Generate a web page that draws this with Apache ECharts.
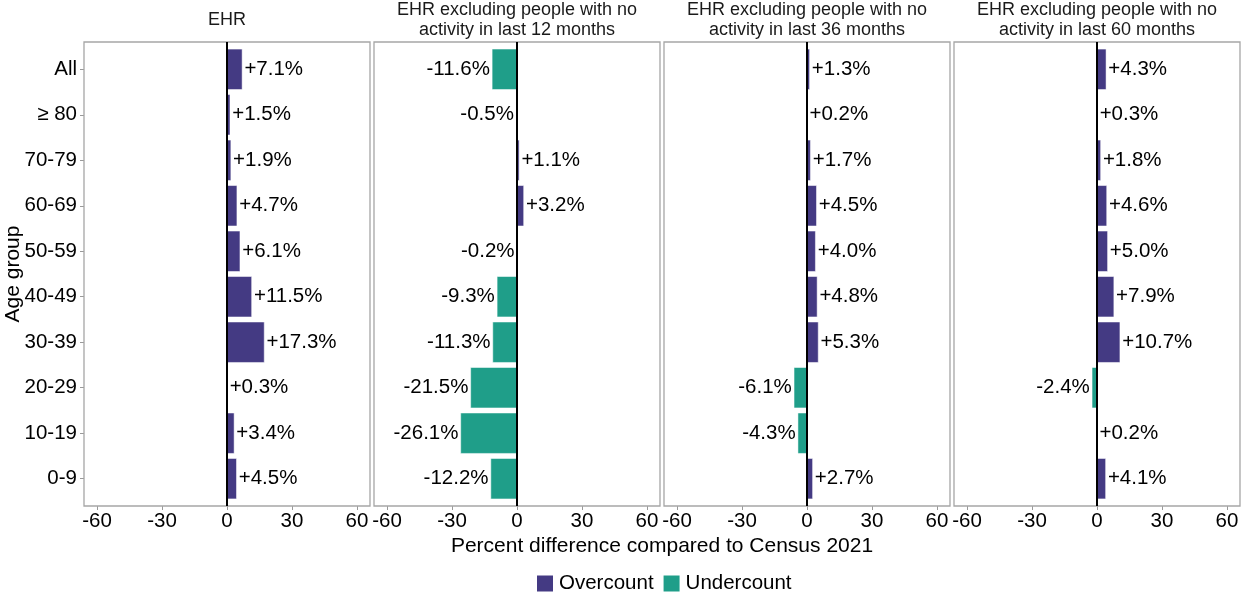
<!DOCTYPE html>
<html lang="en">
<head>
    <meta charset="UTF-8">
    <title>EHR vs Census 2021</title>
    <script src="https://cdn.jsdelivr.net/npm/echarts@6/dist/echarts.min.js"></script>
    <style>
        html, body { margin: 0; padding: 0; background: #fff; }
        #main { width: 1242px; height: 592px; }
    </style>
</head>
<body>
<div id="main"></div>
<script>
    // age groups, top to bottom
    const ageGroups = ['All', '≥ 80', '70-79', '60-69', '50-59', '40-49', '30-39', '20-29', '10-19', '0-9'];

    const panelTitles = [
        'EHR',
        'EHR excluding people with no\nactivity in last 12 months',
        'EHR excluding people with no\nactivity in last 36 months',
        'EHR excluding people with no\nactivity in last 60 months'
    ];

    const ehrAll = [7.1, 1.5, 1.9, 4.7, 6.1, 11.5, 17.3, 0.3, 3.4, 4.5];
    const ehr12m = [-11.6, -0.5, 1.1, 3.2, -0.2, -9.3, -11.3, -21.5, -26.1, -12.2];
    const ehr36m = [1.3, 0.2, 1.7, 4.5, 4.0, 4.8, 5.3, -6.1, -4.3, 2.7];
    const ehr60m = [4.3, 0.3, 1.8, 4.6, 5.0, 7.9, 10.7, -2.4, 0.2, 4.1];
    const panelValues = [ehrAll, ehr12m, ehr36m, ehr60m];

    const xTicks = [-60, -30, 0, 30, 60];

    const OVER = '#443a83';
    const UNDER = '#1f9e89';
    const FONT = 'Liberation Sans, Arial, sans-serif';
    const FS = 20.5;

    const panelLeft = [84, 374, 664, 954];
    const panelWidth = 286;
    // frame 42..506 = 10.2 bands (ggplot discrete expansion 0.6)
    const frameTop = 42, frameBottom = 506;
    const band = (frameBottom - frameTop) / 10.2;
    const gridTop = frameTop + 0.1 * band;
    const gridBottom = 592 - (frameBottom - 0.1 * band);

    let chart = echarts.init(document.getElementById('main'));

    function fmt(v) {
        return (v > 0 ? '+' : '') + v.toFixed(1) + '%';
    }

    let grids = [], xAxes = [], yAxes = [], series = [], titles = [];
    panelValues.forEach(function (vals, i) {
        grids.push({
            left: panelLeft[i],
            width: panelWidth,
            top: gridTop,
            bottom: gridBottom
        });
        xAxes.push({
            type: 'value',
            gridIndex: i,
            min: -66,
            max: 66,
            offset: 0.1 * band,
            splitLine: { show: false },
            axisLine: { show: false, onZero: false },
            axisTick: {
                show: true, length: 4, customValues: xTicks,
                lineStyle: { color: '#999', width: 1 }
            },
            axisLabel: {
                customValues: xTicks, color: '#000', fontSize: FS,
                fontFamily: FONT, margin: 5
            }
        });
        yAxes.push({
            type: 'category',
            gridIndex: i,
            data: ageGroups,
            inverse: true,
            position: 'left',
            axisLine: { show: false, onZero: false },
            axisTick: {
                show: i === 0, length: 4, alignWithLabel: true,
                lineStyle: { color: '#999', width: 1 }
            },
            axisLabel: {
                show: i === 0, color: '#000', fontSize: FS,
                fontFamily: FONT, margin: 7
            },
            splitLine: { show: false }
        });
        series.push({
            name: 'Overcount',
            type: 'bar',
            xAxisIndex: i,
            yAxisIndex: i,
            barWidth: '90%',
            barGap: '-100%',
            itemStyle: { color: OVER, borderColor: '#fff', borderWidth: 0.5 },
            label: {
                show: true, position: 'right', distance: 2, color: '#000',
                fontSize: FS, fontFamily: FONT,
                formatter: function (p) { return fmt(p.value); }
            },
            data: vals.map(function (v) { return v >= 0 ? v : null; })
        });
        series.push({
            name: 'Undercount',
            type: 'bar',
            xAxisIndex: i,
            yAxisIndex: i,
            barWidth: '90%',
            barGap: '-100%',
            itemStyle: { color: UNDER, borderColor: '#fff', borderWidth: 0.5 },
            label: {
                show: true, position: 'left', distance: 2, color: '#000',
                fontSize: FS, fontFamily: FONT,
                formatter: function (p) { return fmt(p.value); }
            },
            data: vals.map(function (v) { return v < 0 ? v : null; })
        });
        titles.push({
            text: panelTitles[i],
            left: panelLeft[i] + panelWidth / 2,
            top: panelTitles[i].indexOf('\n') >= 0 ? 0 : 10,
            textAlign: 'center',
            padding: 0,
            textStyle: {
                fontSize: 18, fontWeight: 'normal', color: '#1a1a1a',
                fontFamily: FONT, lineHeight: 20
            }
        });
    });

    let option = {
        animation: false,
        title: titles,
        grid: grids,
        xAxis: xAxes,
        yAxis: yAxes,
        series: series,
        legend: {
            data: ['Overcount', 'Undercount'],
            top: 573,
            left: 535,
            padding: 0,
            icon: 'rect',
            itemWidth: 18,
            itemHeight: 18,
            itemGap: 8,
            textStyle: { fontSize: FS, color: '#000', fontFamily: FONT }
        }
    };
    chart.setOption(option);

    // panel frames, zero lines and axis titles, placed through the axes' scales
    let graphics = [];
    panelValues.forEach(function (vals, i) {
        let x0 = chart.convertToPixel({ xAxisIndex: i }, -66);
        let x1 = chart.convertToPixel({ xAxisIndex: i }, 66);
        let xz = chart.convertToPixel({ xAxisIndex: i }, 0);
        let yFirst = chart.convertToPixel({ yAxisIndex: i }, ageGroups[0]);
        let yLast = chart.convertToPixel({ yAxisIndex: i }, ageGroups[ageGroups.length - 1]);
        let step = (yLast - yFirst) / (ageGroups.length - 1);
        let top = yFirst - 0.6 * step;
        let bottom = yLast + 0.6 * step;
        graphics.push({
            type: 'rect',
            shape: { x: x0, y: top, width: x1 - x0, height: bottom - top },
            style: { fill: null, stroke: '#a6a6a6', lineWidth: 1.3 },
            z: 1
        });
        graphics.push({
            type: 'line',
            shape: { x1: xz, y1: top, x2: xz, y2: bottom },
            style: { stroke: '#000', lineWidth: 2 },
            z: 10
        });
    });
    let midX = (panelLeft[0] + panelLeft[3] + panelWidth) / 2;
    graphics.push({
        type: 'text',
        x: midX,
        y: 546,
        style: {
            text: 'Percent difference compared to Census 2021',
            fontSize: 21, fontFamily: FONT, fill: '#000',
            textAlign: 'center', textVerticalAlign: 'middle'
        }
    });
    graphics.push({
        type: 'text',
        x: 13,
        y: (frameTop + frameBottom) / 2,
        rotation: Math.PI / 2,
        style: {
            text: 'Age group',
            fontSize: 21, fontFamily: FONT, fill: '#000',
            textAlign: 'center', textVerticalAlign: 'middle'
        }
    });
    chart.setOption({ graphic: graphics });
</script>
</body>
</html>
